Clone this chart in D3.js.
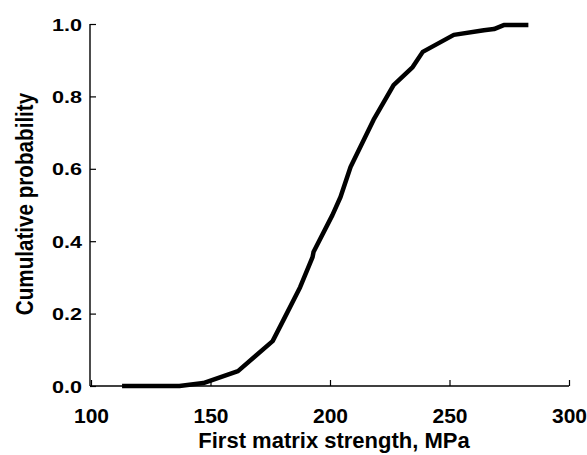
<!DOCTYPE html>
<html>
<head>
<meta charset="utf-8">
<script src="https://cdn.jsdelivr.net/npm/d3@7"></script>
<style>
  body { margin: 0; background: #fff; }
  svg { display: block; }
  text { font-family: "Liberation Sans", Arial, sans-serif; font-weight: bold; fill: #000; }
</style>
</head>
<body>
<div id="chart"></div>
<script>
// values
var strength = [113, 137, 147, 161.5, 176, 180.5, 187.5, 192.7, 193.1, 201, 204.4, 208.6, 218.2, 226.6, 234.6, 238.8, 251.8, 264.4, 268.6, 272.7, 283]
var probability = [0, 0, 0.008, 0.041, 0.124, 0.182, 0.273, 0.356, 0.37, 0.472, 0.522, 0.605, 0.735, 0.831, 0.881, 0.923, 0.97, 0.983, 0.986, 0.997, 0.997]
var xTicks = [100, 150, 200, 250, 300]
var yTicks = [0, 0.2, 0.4, 0.6, 0.8, 1.0]
var xTitle = "First matrix strength, MPa"
var yTitle = "Cumulative probability"

var W = 587, H = 455
var margin = {top: 24, right: 19, bottom: 69, left: 90}
var width = W - margin.left - margin.right
var height = H - margin.top - margin.bottom

var data = strength.map(function(d, i){ return {x: d, y: probability[i]} })

var svg = d3.select("#chart").append("svg")
  .attr("width", W)
  .attr("height", H)

var g = svg.append("g")
  .attr("transform", "translate(" + margin.left + "," + margin.top + ")")

var x = d3.scaleLinear().domain([100, 300]).range([1, width + 1])
var y = d3.scaleLinear().domain([0, 1]).range([height, 0])

// x axis, ticks pointing inward
var xAxis = d3.axisBottom(x).tickValues(xTicks).tickSizeInner(-6).tickSizeOuter(0).tickPadding(0)
var gx = g.append("g").attr("class", "xaxis")
  .attr("transform", "translate(0," + height + ")")
  .call(xAxis)
gx.select(".domain").attr("d", "M0,0H" + (width + 1)).style("stroke-width", "1.4px")
gx.selectAll(".tick line").style("stroke-width", "1.2px")
gx.selectAll(".tick text")
  .attr("y", 37)
  .attr("dy", null)
  .style("font-size", "21px")
  .text(function(d){ return d3.format("d")(d) })

// y axis, ticks pointing inward
var yAxis = d3.axisLeft(y).tickValues(yTicks).tickSizeInner(-6).tickSizeOuter(0)
var gy = g.append("g").attr("class", "yaxis").call(yAxis)
gy.select(".domain").attr("d", "M0,0V" + height).style("stroke-width", "1.4px")
gy.selectAll(".tick line").style("stroke-width", "1.2px")
gy.selectAll(".tick text").remove()
gy.selectAll(".tick").append("text")
  .attr("transform", "translate(-8,0) scale(1.27,1)")
  .attr("text-anchor", "end")
  .attr("dy", "0.36em")
  .style("font-size", "17px")
  .text(function(d){ return d3.format(".1f")(d) })

// axis titles
svg.append("text")
  .attr("x", 334)
  .attr("y", 448)
  .attr("text-anchor", "middle")
  .style("font-size", "22px")
  .text(xTitle)

svg.append("text")
  .attr("transform", "translate(33,204) rotate(-90) scale(0.86,1)")
  .attr("text-anchor", "middle")
  .style("font-size", "24px")
  .text(yTitle)

// the curve
var line = d3.line()
  .x(function(d){ return x(d.x) })
  .y(function(d){ return y(d.y) })

g.append("path")
  .datum(data)
  .attr("class", "line")
  .attr("d", line)
  .style("fill", "none")
  .style("stroke", "#000")
  .style("stroke-width", "4.5px")
  .style("stroke-linejoin", "round")
</script>
</body>
</html>
